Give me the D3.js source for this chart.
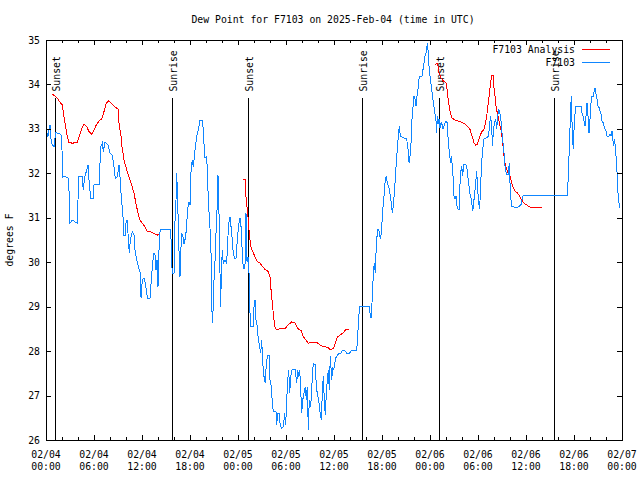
<!DOCTYPE html>
<html><head><meta charset="utf-8">
<script src="https://cdn.jsdelivr.net/npm/d3@7"></script>
<style>
body{margin:0;background:#fff;}
text{font-family:"DejaVu Sans Mono",monospace;font-size:9.8px;fill:#000;}
</style></head><body>
<svg id="c" width="640" height="480"></svg>
<script>
// ---------- data (hours since 2025-02-04 00:00 UTC, degrees F) ----------
const chartTitle = "Dew Point for F7103 on 2025-Feb-04 (time in UTC)";
const yTicks = [26,27,28,29,30,31,32,33,34,35];
const xTickHours = [0,6,12,18,24,30,36,42,48,54,60,66,72];
const xTickDates = ["02/04","02/04","02/04","02/04","02/05","02/05","02/05","02/05","02/06","02/06","02/06","02/06","02/07"];
const xTickTimes = ["00:00","06:00","12:00","18:00","00:00","06:00","12:00","18:00","00:00","06:00","12:00","18:00","00:00"];
const sunLabels = ["Sunset","Sunrise","Sunset","Sunrise","Sunset","Sunrise"];
const sunHours = [1.16,15.71,25.19,39.56,49.13,63.56];
const seriesNames = ["F7103 Analysis","F7103"];

const obs = [
[0,33.0],[0.25,32.83],[0.375,32.98],[0.5,33.09],[0.66,32.68],[1.0,32.6],[1.21,32.91],[1.63,32.9],[1.91,32.86],
[2.04,32.37],[2.09,31.92],[2.34,31.94],[2.75,31.89],[2.96,31.4],[3.0,30.88],[3.29,30.95],[3.59,30.91],[3.91,30.88],
[4.0,31.4],[4.09,31.92],[4.54,31.92],[4.66,31.62],[4.84,31.92],[5.09,32.07],[5.25,32.19],[5.38,31.85],[5.59,31.44],
[5.91,31.44],[6.0,31.74],[6.63,31.74],[6.75,32.23],[6.84,32.6],[7.04,32.68],[7.16,32.49],[7.38,32.71],[7.75,32.64],
[8.0,32.45],[8.29,32.41],[8.5,32.15],[8.66,31.89],[8.91,31.92],[9.13,32.19],[9.25,31.92],[9.41,31.47],[9.63,31.02],
[9.66,30.61],[9.88,30.61],[10.0,30.88],[10.13,30.95],[10.25,30.65],[10.41,30.2],[10.54,30.5],[10.79,30.69],[11.0,30.61],
[11.13,30.27],[11.34,30.05],[11.54,29.9],[11.79,29.75],[11.88,29.19],[12.04,29.6],[12.25,29.64],[12.41,29.53],[12.59,29.3],
[12.71,29.19],[13.0,29.19],[13.16,29.6],[13.34,30.01],[13.5,30.2],[13.63,30.16],[13.75,29.83],[13.88,30.05],[14.0,29.45],
[14.09,30.12],[14.21,30.65],[14.34,30.74],[15.59,30.74],[15.63,30.5],[15.71,30.01],[15.79,29.75],[16.0,29.75],[16.13,30.95],
[16.25,31.4],[16.34,32.0],[16.41,31.62],[16.54,30.88],[16.66,30.01],[16.75,29.67],[16.84,30.2],[16.96,30.65],[17.13,30.57],
[17.25,30.42],[17.46,30.57],[17.59,30.88],[17.75,31.25],[17.88,31.36],[18.0,31.29],[18.09,31.47],[18.13,32.08],[18.29,32.3],
[18.41,32.15],[18.63,32.53],[18.84,32.83],[19.04,32.98],[19.25,33.2],[19.54,33.2],[19.66,32.98],[19.79,32.53],[19.88,32.34],
[20.09,32.37],[20.16,32.08],[20.29,31.4],[20.5,30.76],[20.63,30.2],[20.71,29.15],[20.79,28.63],[20.91,29.0],[21.0,29.6],
[21.13,30.05],[21.25,30.65],[21.41,31.32],[21.5,31.96],[21.59,31.4],[21.66,30.8],[21.75,29.75],[21.84,29.0],[21.91,29.75],
[22.04,30.27],[22.16,29.98],[22.38,30.05],[22.59,29.98],[22.71,30.5],[22.88,30.91],[23.0,31.02],[23.13,30.8],[23.29,30.5],
[23.41,30.2],[23.59,30.09],[23.75,30.09],[23.91,30.5],[24.09,30.84],[24.25,30.99],[24.38,30.8],[24.5,30.35],[24.66,29.86],
[24.84,29.86],[24.91,30.05],[25.0,31.1],[25.13,30.01],[25.25,30.12],[25.38,29.75],[25.5,28.85],[25.63,28.55],[25.88,28.55],
[26.0,29.0],[26.13,29.15],[26.25,28.7],[26.41,28.55],[26.54,28.25],[26.71,28.1],[26.84,27.95],[26.96,28.25],[27.09,27.73],
[27.25,27.43],[27.41,27.28],[27.54,27.73],[27.71,27.91],[27.91,27.91],[28.0,27.35],[28.16,27.2],[28.29,26.83],[28.41,26.64],
[28.75,26.64],[28.84,26.34],[28.96,26.6],[29.13,26.6],[29.25,26.38],[29.41,26.26],[29.66,26.3],[29.84,26.6],[29.96,26.34],
[30.09,26.9],[30.21,27.35],[30.34,27.58],[30.46,27.05],[30.59,27.43],[30.75,27.58],[31.16,27.58],[31.34,27.28],[31.46,27.58],
[31.59,27.43],[31.71,27.58],[31.84,27.13],[31.96,26.6],[32.09,26.9],[32.25,27.05],[32.41,27.2],[32.54,26.9],[32.66,27.2],
[32.79,26.23],[32.91,26.9],[33.09,26.75],[33.25,27.28],[33.41,27.73],[33.66,27.69],[33.79,27.2],[33.91,27.05],[34.09,26.9],
[34.25,26.64],[34.41,26.45],[34.54,27.05],[34.66,27.43],[34.79,26.9],[34.91,26.56],[35.04,27.05],[35.16,27.35],[35.29,27.58],
[35.41,27.13],[35.54,27.88],[35.71,27.35],[35.84,27.65],[35.96,27.58],[36.09,27.73],[36.21,27.84],[36.34,27.88],[36.59,27.95],
[36.84,27.95],[37.09,28.02],[37.34,28.02],[37.59,27.95],[37.91,27.95],[38.21,28.02],[38.84,28.02],[38.96,28.34],[39.09,28.79],
[39.25,29.01],[40.41,29.01],[40.5,28.86],[40.63,28.75],[40.75,29.09],[40.84,29.46],[40.96,29.84],[41.04,29.99],[41.16,29.76],
[41.25,30.21],[41.38,30.59],[41.5,30.74],[41.66,30.7],[41.79,30.52],[41.91,30.66],[42.04,31.0],[42.16,31.34],[42.29,31.56],
[42.41,31.87],[42.54,31.94],[42.66,31.79],[42.79,31.72],[42.91,31.64],[43.04,31.49],[43.16,31.34],[43.29,31.11],[43.41,31.26],
[43.54,31.56],[43.66,31.87],[43.79,32.24],[43.91,32.54],[44.04,32.84],[44.16,33.06],[44.29,32.84],[44.66,32.8],[45.09,32.77],
[45.25,32.54],[45.38,32.24],[45.5,32.39],[45.63,32.69],[45.75,33.22],[45.88,33.51],[46.0,33.74],[46.13,33.67],[46.25,33.51],
[46.38,33.74],[46.5,33.89],[46.63,34.12],[46.75,34.19],[47.0,34.19],[47.13,34.34],[47.25,34.49],[47.38,34.64],[47.5,34.71],
[47.63,34.87],[47.71,34.93],[47.79,34.64],[47.91,34.34],[48.04,34.12],[48.16,33.97],[48.29,33.78],[48.41,33.59],[48.54,33.44],
[48.66,33.29],[48.79,33.14],[48.84,32.91],[48.91,33.29],[49.0,33.1],[49.13,33.22],[49.25,33.03],[49.38,33.14],[49.5,33.1],
[49.63,32.99],[49.75,33.06],[49.88,33.14],[50.0,33.18],[50.13,33.14],[50.21,32.91],[50.34,32.62],[50.46,32.39],[50.59,32.24],
[50.71,32.39],[50.79,32.09],[50.91,31.87],[51.0,31.49],[51.13,31.42],[51.25,31.49],[51.38,31.26],[51.5,31.19],[51.63,31.19],
[51.71,31.64],[51.84,32.02],[51.96,32.16],[52.09,31.94],[52.21,32.2],[52.46,32.2],[52.59,32.16],[52.71,31.94],[52.84,31.79],
[52.96,31.56],[53.09,31.49],[53.21,31.34],[53.34,31.15],[53.46,31.34],[53.59,31.56],[53.71,31.79],[53.84,32.05],[53.96,31.64],
[54.09,31.34],[54.21,31.19],[54.25,31.38],[54.38,31.94],[54.46,32.24],[54.59,32.54],[54.75,32.77],[55.09,32.8],[55.29,32.84],
[55.41,32.99],[55.5,33.18],[55.59,33.29],[55.71,32.99],[55.84,32.62],[55.91,32.99],[56.09,33.14],[56.21,33.22],[56.34,32.99],
[56.46,33.29],[56.59,33.44],[56.71,33.36],[56.84,33.29],[56.91,33.06],[57.0,32.91],[57.16,32.62],[57.29,32.39],[57.41,32.09],
[57.59,31.98],[57.79,31.98],[57.91,32.24],[58.0,31.79],[58.09,31.56],[58.16,31.26],[58.41,31.25],[58.66,31.23],[58.91,31.23],
[59.16,31.26],[59.41,31.3],[59.59,31.49],[60.09,31.5],[60.5,31.49],[60.91,31.5],[61.54,31.49],[62.16,31.5],[65.16,31.5],
[65.29,31.94],[65.41,32.54],[65.54,33.22],[65.66,33.74],[65.79,32.91],[65.91,32.54],[66.04,33.14],[66.21,33.51],[66.54,33.51],
[66.88,33.5],[67.0,33.36],[67.13,33.29],[67.25,33.18],[67.38,33.06],[67.5,33.29],[67.63,33.59],[67.75,33.29],[67.88,32.91],
[68.0,33.22],[68.13,33.59],[68.25,33.74],[68.38,33.71],[68.5,33.82],[68.63,33.91],[68.75,33.78],[68.88,33.67],[69.0,33.51],
[69.13,33.48],[69.25,33.4],[69.38,33.33],[69.5,33.18],[69.63,33.14],[69.75,33.06],[69.88,32.99],[70.0,32.95],[70.13,32.84],
[70.25,32.82],[70.38,32.84],[70.5,32.88],[70.63,32.84],[70.75,32.95],[70.84,32.84],[70.91,32.62],[71.0,32.69],[71.09,32.77],
[71.16,32.54],[71.29,32.32],[71.38,32.02],[71.46,31.64],[71.59,31.38],[71.71,31.23],[71.79,31.23]
];

const analysis1 = [
[0.84,33.78],[1.41,33.69],[1.84,33.58],[2.04,33.54],[2.25,33.27],[2.46,33.05],[2.66,32.82],[2.88,32.69],[3.29,32.68],
[3.91,32.69],[4.21,32.86],[4.46,33.01],[4.75,33.11],[5.09,33.05],[5.38,32.94],[5.71,32.88],[6.0,32.98],[6.29,33.09],
[6.63,33.18],[6.96,33.22],[7.25,33.39],[7.54,33.58],[7.79,33.63],[8.09,33.59],[8.38,33.54],[8.71,33.48],[9.0,33.45],
[9.16,33.05],[9.34,32.9],[9.5,32.6],[9.75,32.3],[10.0,32.14],[10.25,31.98],[10.5,31.85],[10.75,31.72],[11.0,31.55],
[11.25,31.32],[11.5,31.1],[11.75,30.95],[12.04,30.88],[12.34,30.8],[12.66,30.7],[13.09,30.68],[13.5,30.65],[13.91,30.61],[14.13,30.63]
];
const analysis2 = [
[24.66,31.87],[24.91,31.87],[25.0,31.47],[25.16,31.17],[25.29,30.95],[25.41,30.65],[25.59,30.35],[25.84,30.24],[26.13,30.12],
[26.41,30.01],[26.75,29.98],[27.09,29.9],[27.41,29.83],[27.79,29.79],[28.0,29.67],[28.13,29.38],[28.29,29.08],[28.41,28.85],
[28.59,28.55],[28.75,28.49],[29.25,28.5],[29.88,28.51],[30.29,28.59],[30.71,28.66],[31.13,28.63],[31.46,28.51],[31.88,28.46],
[32.16,28.33],[32.5,28.25],[32.79,28.18],[33.34,28.2],[33.84,28.2],[34.25,28.14],[34.66,28.1],[35.16,28.09],[35.5,28.04],
[35.91,28.05],[36.16,28.18],[36.41,28.31],[36.75,28.36],[37.16,28.41],[37.5,28.49],[37.91,28.49]
];
const analysis3 = [
[48.63,34.45],[48.96,34.47],[49.13,34.26],[49.38,34.15],[49.66,34.08],[50.0,34.04],[50.16,33.85],[50.29,33.63],[50.5,33.4],
[50.71,33.25],[51.13,33.2],[51.66,33.17],[52.16,33.13],[52.59,33.08],[53.0,32.99],[53.25,32.84],[53.5,32.69],[53.71,32.63],
[53.91,32.65],[54.16,32.8],[54.46,32.93],[54.79,33.0],[55.09,33.29],[55.29,33.59],[55.41,33.78],[55.59,34.04],[55.71,34.21],
[55.88,34.21],[56.0,33.93],[56.13,33.74],[56.25,33.51],[56.41,33.36],[56.59,33.22],[56.75,33.06],[56.91,32.95],[57.04,32.77],
[57.16,32.54],[57.29,32.32],[57.5,32.13],[57.75,32.02],[58.0,31.94],[58.21,31.79],[58.41,31.68],[58.66,31.6],[58.91,31.56],
[59.16,31.5],[59.41,31.42],[59.66,31.34],[60.0,31.3],[60.29,31.26],[60.71,31.23],[61.13,31.23],[61.54,31.24],[61.96,31.24]
];
const analysisSegments = [analysis1, analysis2, analysis3];

// ---------- drawing ----------
const L = 46, R = 622, T = 40, B = 440;
const svg = d3.select("#c");
const x = d3.scaleLinear().domain([0,72]).range([L,R]);
const y = d3.scaleLinear().domain([26,35]).range([B,T]);
const red = "#ff0000", blue = "#0f86ff";

svg.append("text").attr("x",333).attr("y",23).attr("text-anchor","middle").text(chartTitle);

// sunrise / sunset markers
const sunTop = 33.7, sunLabelAt = 33.84;
sunHours.forEach((h,i)=>{
  const px = Math.round(x(h))+0.5;
  svg.append("line").attr("x1",px).attr("x2",px).attr("y1",y(26)).attr("y2",y(sunTop))
    .attr("stroke","#000").attr("stroke-width",1).attr("shape-rendering","crispEdges");
  svg.append("text").attr("transform",`translate(${px+4.5},${y(sunLabelAt)}) rotate(-90)`)
    .attr("text-anchor","start").text(sunLabels[i]);
});

// series
const line = d3.line().x(d=>x(d[0])).y(d=>y(d[1]));
analysisSegments.forEach(seg=>{
  svg.append("path").attr("d",line(seg)).attr("fill","none").attr("stroke",red)
    .attr("stroke-width",1).attr("shape-rendering","crispEdges");
});
svg.append("path").attr("d",line(obs)).attr("fill","none").attr("stroke",blue)
  .attr("stroke-width",1).attr("shape-rendering","crispEdges");

// frame
const g = svg.append("g").attr("shape-rendering","crispEdges").attr("stroke","#000").attr("stroke-width",1);
g.append("rect").attr("x",L+0.5).attr("y",T+0.5).attr("width",R-L).attr("height",B-T).attr("fill","none");

// x ticks: major every 6h, minor every 2h, inward, mirrored
d3.range(0,73,2).forEach(h=>{
  const px = Math.round(x(h))+0.5;
  const len = (h%6===0)?5:3;
  g.append("line").attr("x1",px).attr("x2",px).attr("y1",B).attr("y2",B-len);
  g.append("line").attr("x1",px).attr("x2",px).attr("y1",T).attr("y2",T+len);
});
xTickHours.forEach((h,i)=>{
  svg.append("text").attr("x",x(h)).attr("y",458).attr("text-anchor","middle").text(xTickDates[i]);
  svg.append("text").attr("x",x(h)).attr("y",470).attr("text-anchor","middle").text(xTickTimes[i]);
});
// y ticks
yTicks.forEach(v=>{
  const py = Math.round(y(v))+0.5;
  g.append("line").attr("x1",L).attr("x2",L+5).attr("y1",py).attr("y2",py);
  g.append("line").attr("x1",R).attr("x2",R-5).attr("y1",py).attr("y2",py);
  svg.append("text").attr("x",40).attr("y",y(v)+3.5).attr("text-anchor","end").text(v);
});
svg.append("text").attr("transform","translate(13,240) rotate(-90)").attr("text-anchor","middle").text("degrees F");

// legend
const legendColors = [red, blue];
seriesNames.forEach((n,i)=>{
  const ly = 49 + i*13;
  svg.append("text").attr("x",575).attr("y",ly+3.5).attr("text-anchor","end").text(n);
  svg.append("line").attr("x1",582).attr("x2",610).attr("y1",ly+0.5).attr("y2",ly+0.5)
    .attr("stroke",legendColors[i]).attr("stroke-width",1).attr("shape-rendering","crispEdges");
});
</script>
</body></html>
